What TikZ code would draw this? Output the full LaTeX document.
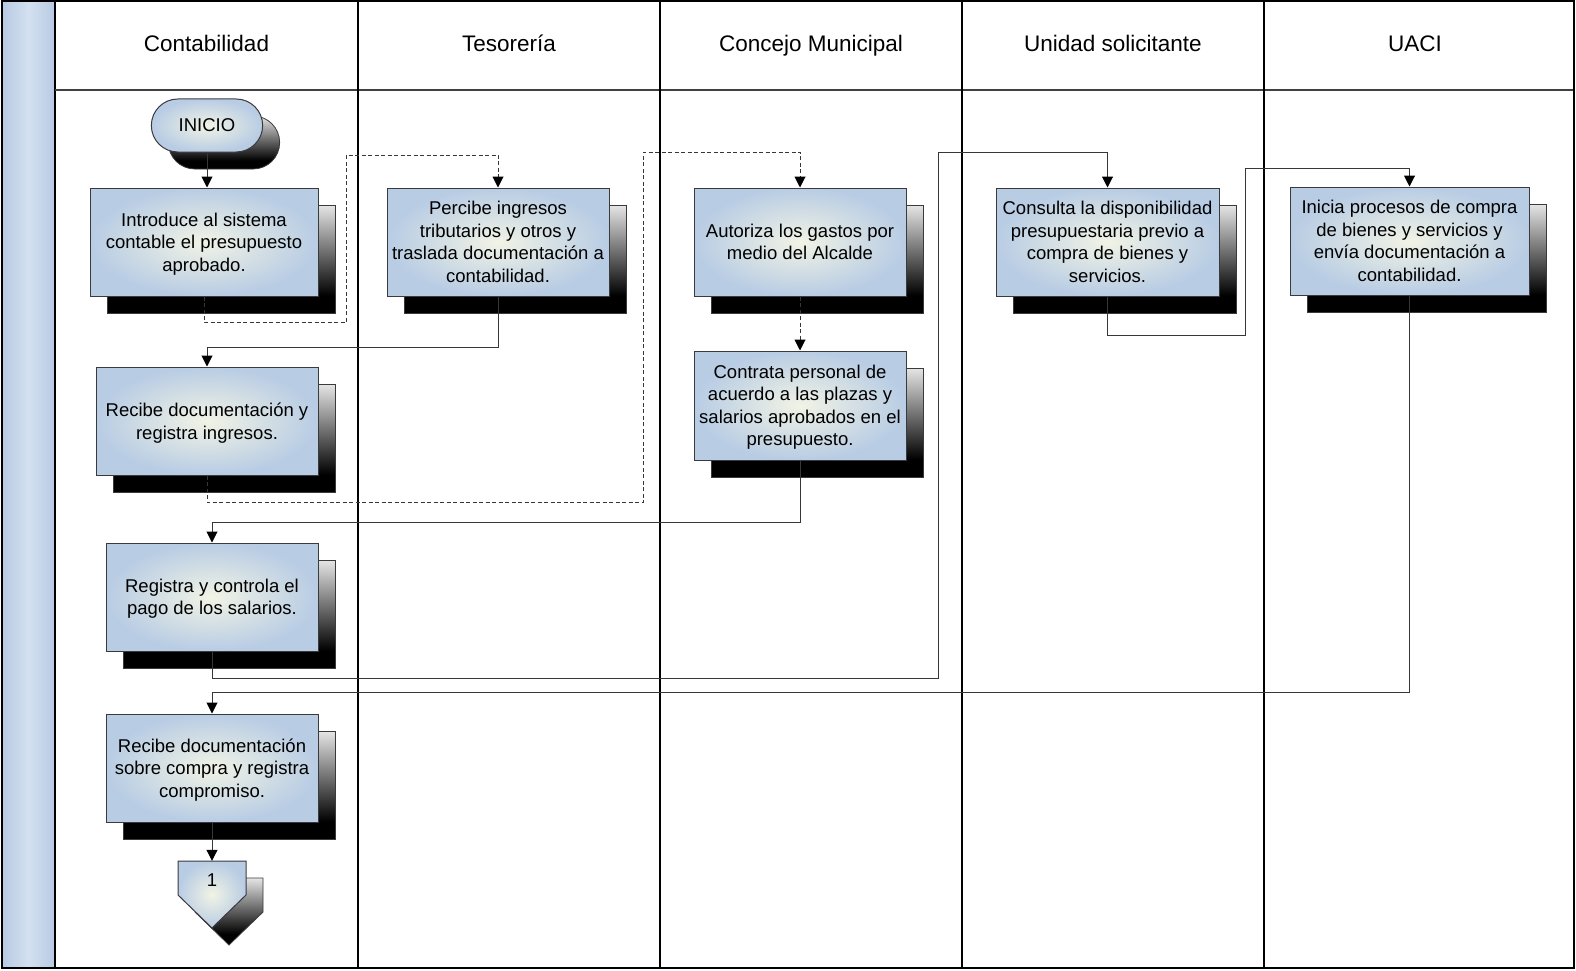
\documentclass[tikz,border=0pt]{standalone}
\usepackage{fontspec}
\setmainfont{Liberation Sans}
\usetikzlibrary{arrows.meta,shadows,shapes.misc}

\definecolor{boxout}{RGB}{184,204,228}
\definecolor{boxin}{RGB}{241,243,229}
\definecolor{boxline}{RGB}{58,58,62}
\definecolor{connline}{RGB}{55,55,55}
\definecolor{bandside}{RGB}{183,202,227}
\definecolor{bandmid}{RGB}{212,224,240}

% shadow: black at the bottom, fading to light grey towards the top
\pgfdeclareverticalshading{shadowgrad}{100bp}{%
  color(0bp)=(black); color(33bp)=(black);
  color(75bp)=(white!90!black); color(100bp)=(white!90!black)}

\newcommand\bxfont{\fontsize{18.5}{22.5}\selectfont}
\newcommand\hdfont{\fontsize{22.5}{26}\selectfont}

\tikzset{
  lane/.style={line width=1.3pt, black},
  stepshadow/.style={general shadow={shadow xshift=17pt, shadow yshift=-17pt,
      shade, shading=shadowgrad, draw=boxline, line width=0.8pt}},
  stepbox/.style={rectangle, draw=boxline, line width=1pt,
      inner color=boxin, outer color=boxout, inner sep=2pt, align=center,
      font=\bxfont, text depth=0pt, stepshadow},
  termbox/.style={rounded rectangle, draw=boxline, line width=1pt,
      inner color=boxin, outer color=boxout, align=center,
      font=\bxfont, minimum width=118pt, minimum height=53pt, stepshadow},
  conn/.style={draw=connline, line width=1pt,
      -{Triangle[width=11pt,length=11pt,color=black,fill=black]}},
  dconn/.style={conn, dash pattern=on 4pt off 2.5pt},
  header/.style={font=\hdfont, anchor=base},
}

\begin{document}
\begin{tikzpicture}[x=1pt, y=-1pt]
\useasboundingbox (0,0) rectangle (1576,971);

% side band
\shade[left color=bandside, right color=bandside, middle color=bandmid]
  (2,1) rectangle (55,968);
\draw[line width=1.3pt] (55,1) -- (55,968);

% header separator and lanes
\draw[line width=1.3pt, black!75] (55,90) -- (1574,90);
\foreach \lx in {358,660,962,1264}
  \draw[lane] (\lx,1) -- (\lx,968);

% outer frame
\draw[line width=1.6pt] (2,1) rectangle (1574,968);

% lane titles
\node[header] (h1) at (206.5,52) {Contabilidad};
\node[header] (h2) at (509,52) {Tesorería};
\node[header] (h3) at (811,52) {Concejo Municipal};
\node[header] (h4) at (1113,52) {Unidad solicitante};
\node[header] (h5) at (1415,52) {UACI};

% process steps
\node[termbox] (ini) at (207,125.5) {INICIO};

\node[stepbox, minimum width=228pt, minimum height=108pt] (b1) at (204,242)
  {Introduce al sistema\\contable el presupuesto\\aprobado.};
\node[stepbox, minimum width=222pt, minimum height=108pt] (b2) at (498,242)
  {Percibe ingresos\\tributarios y otros y\\traslada documentación a\\contabilidad.};
\node[stepbox, minimum width=212pt, minimum height=108pt] (b3) at (800,242)
  {Autoriza los gastos por\\medio del Alcalde};
\node[stepbox, minimum width=223pt, minimum height=108pt] (b4) at (1107.5,242)
  {Consulta la disponibilidad\\presupuestaria previo a\\compra de bienes y\\servicios.};
\node[stepbox, minimum width=239pt, minimum height=108pt] (b5) at (1409.5,241)
  {Inicia procesos de compra\\de bienes y servicios y\\envía documentación a\\contabilidad.};
\node[stepbox, minimum width=222pt, minimum height=108pt] (b6) at (207,421)
  {Recibe documentación y\\registra ingresos.};
\node[stepbox, minimum width=212pt, minimum height=109pt] (b7) at (800,405.5)
  {Contrata personal de\\acuerdo a las plazas y\\salarios aprobados en el\\presupuesto.};
\node[stepbox, minimum width=212pt, minimum height=108pt] (b8) at (212,597)
  {Registra y controla el\\pago de los salarios.};
\node[stepbox, minimum width=212pt, minimum height=108pt] (b9) at (212,768)
  {Recibe documentación\\sobre compra y registra\\compromiso.};

% off-page connector
\path[draw=boxline, line width=1pt, inner color=boxin, outer color=boxout, stepshadow]
  (178,861) -- (246,861) -- (246,895) -- (212,928) -- (178,895) -- cycle;
\node[font=\bxfont, minimum width=68pt, minimum height=38pt, inner sep=0pt]
  (off) at (212,880) {1};

% flow
\draw[conn] (ini.south) -- (ini.south |- b1.north);
\draw[dconn] (b1.south) -- ++(0,26) -| (346,155) -| (b2.north);
\draw[conn] (b2.south) -- ++(0,51) -| (b6.north);
\draw[dconn] (b6.south) -- ++(0,27) -| (643,152) -| (b3.north);
\draw[dconn] (b3.south) -- (b7.north);
\draw[conn] (b7.south) -- ++(0,62) -| (b8.north);
\draw[conn] (b8.south) -- ++(0,27) -| (938,152) -| (b4.north);
\draw[conn] (b4.south) -- ++(0,39) -| (1245,168) -| (b5.north);
\draw[conn] (b5.south) -- ++(0,397) -| (b9.north);
\draw[conn] (b9.south) -- (off.north);
\end{tikzpicture}
\end{document}
